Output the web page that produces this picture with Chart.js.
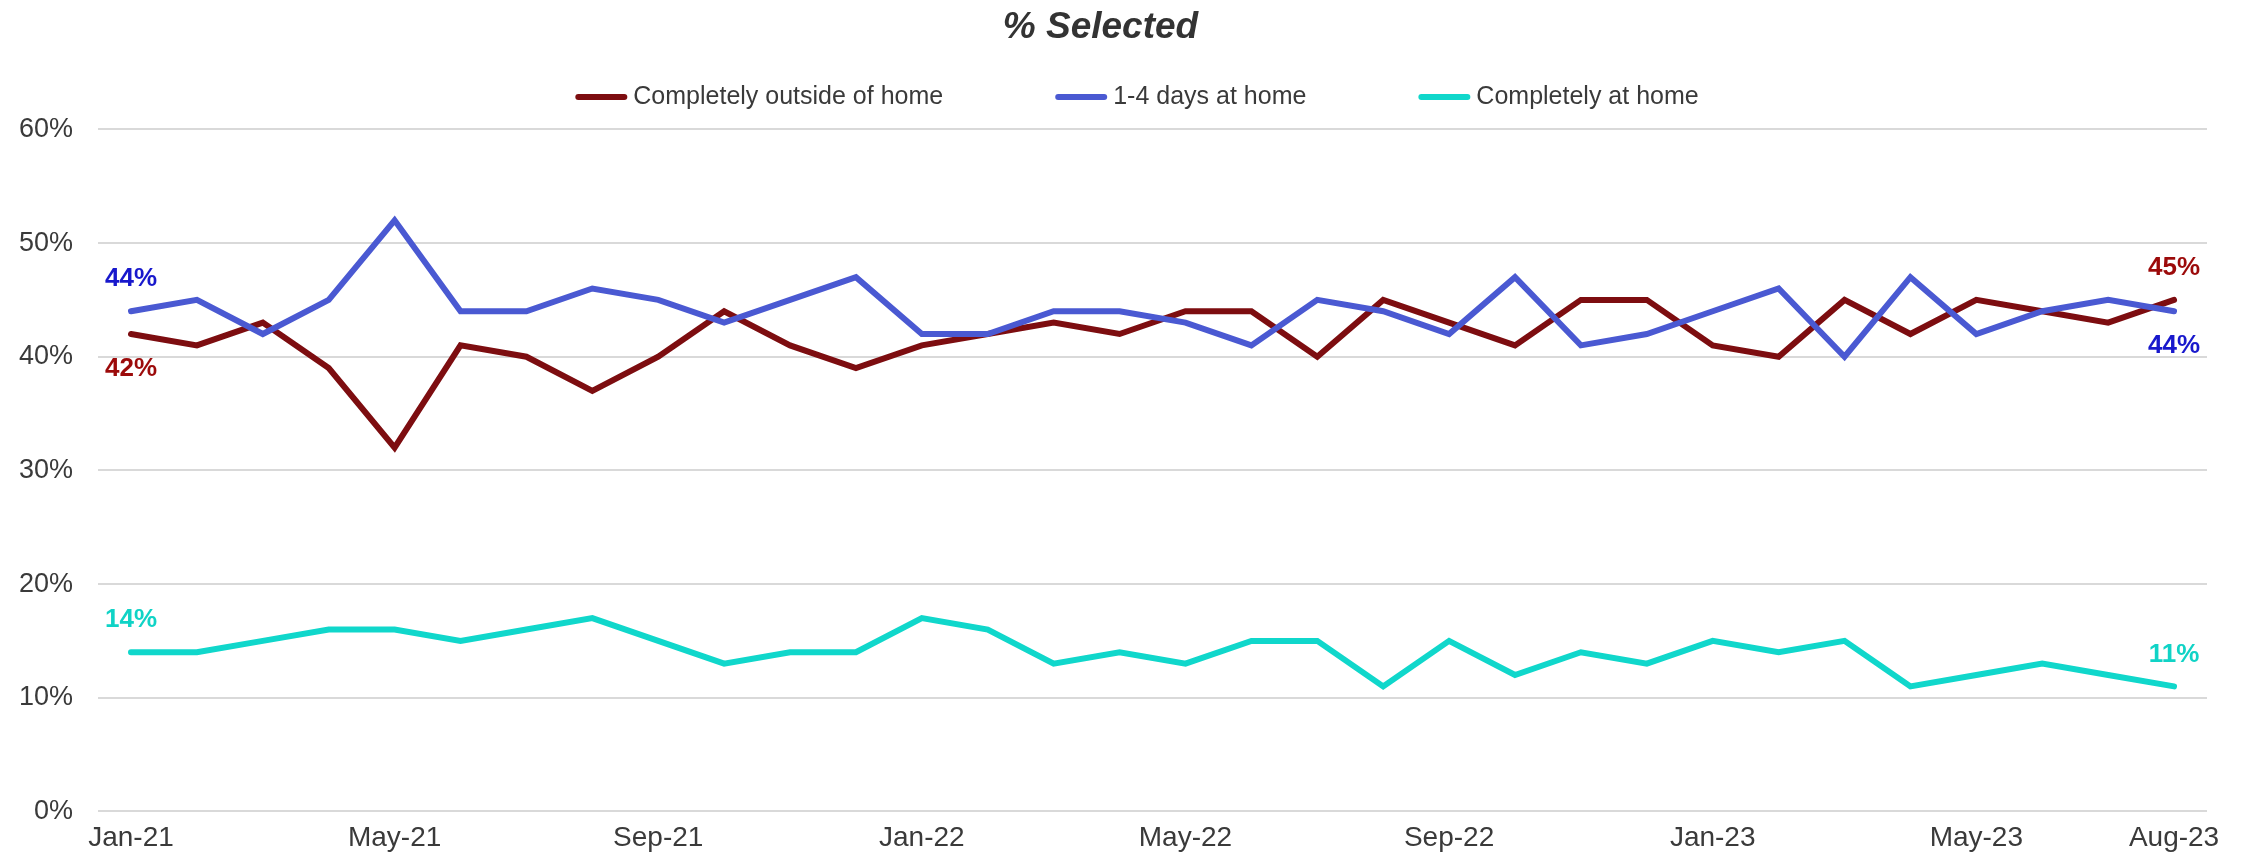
<!DOCTYPE html>
<html lang="en">

<head>
   <meta charset="UTF-8">
   <meta name="viewport" content="width=device-width, initial-scale=1.0">
   <title>% Selected</title>
   <script src="https://cdn.jsdelivr.net/npm/chart.js@4/dist/chart.umd.min.js"></script>
   <style>
      html, body { margin: 0; padding: 0; background: #fff; }
      .chart-container { position: relative; width: 2254px; height: 861px; }
   </style>
</head>

<body>
   <div class="chart-container">
      <canvas id="myChart"></canvas>
   </div>
   <script>
      const months = [
         'Jan-21', 'Feb-21', 'Mar-21', 'Apr-21', 'May-21', 'Jun-21', 'Jul-21', 'Aug-21',
         'Sep-21', 'Oct-21', 'Nov-21', 'Dec-21', 'Jan-22', 'Feb-22', 'Mar-22', 'Apr-22',
         'May-22', 'Jun-22', 'Jul-22', 'Aug-22', 'Sep-22', 'Oct-22', 'Nov-22', 'Dec-22',
         'Jan-23', 'Feb-23', 'Mar-23', 'Apr-23', 'May-23', 'Jun-23', 'Jul-23', 'Aug-23'
      ];

      // percent of respondents per month
      const outsideHome = [42, 41, 43, 39, 32, 41, 40, 37, 40, 44, 41, 39, 41, 42, 43, 42,
         44, 44, 40, 45, 43, 41, 45, 45, 41, 40, 45, 42, 45, 44, 43, 45];
      const partlyHome = [44, 45, 42, 45, 52, 44, 44, 46, 45, 43, 45, 47, 42, 42, 44, 44,
         43, 41, 45, 44, 42, 47, 41, 42, 44, 46, 40, 47, 42, 44, 45, 44];
      const atHome = [14, 14, 15, 16, 16, 15, 16, 17, 15, 13, 14, 14, 17, 16, 13, 14,
         13, 15, 15, 11, 15, 12, 14, 13, 15, 14, 15, 11, 12, 13, 12, 11];

      const yTicks = [0, 10, 20, 30, 40, 50, 60];

      const FONT = '"Liberation Sans", Arial, sans-serif';
      const TEXT = '#3a3a3a';

      // first / last value written next to each line
      const endLabels = {
         id: 'endLabels',
         afterDatasetsDraw(chart) {
            const ctx = chart.ctx;
            ctx.save();
            ctx.font = 'bold 26px ' + FONT;
            ctx.textAlign = 'center';
            ctx.textBaseline = 'middle';
            chart.data.datasets.forEach((ds, di) => {
               const meta = chart.getDatasetMeta(di);
               const last = ds.data.length - 1;
               [[0, ds.firstSide], [last, ds.lastSide]].forEach(([i, side]) => {
                  const pt = meta.data[i];
                  ctx.fillStyle = ds.labelColor;
                  ctx.fillText(ds.data[i] + '%', pt.x, pt.y + (side === 'above' ? -32 : 35));
               });
            });
            ctx.restore();
         }
      };

      // legend with short thick line markers
      const lineLegend = {
         id: 'lineLegend',
         afterDraw(chart) {
            const ctx = chart.ctx;
            const y = 97, lineLen = 52, gap = 6, spacing = 112;
            ctx.save();
            ctx.font = '25px ' + FONT;
            ctx.textBaseline = 'middle';
            const items = chart.data.datasets.map(ds => ({
               text: ds.label, color: ds.borderColor, w: ctx.measureText(ds.label).width
            }));
            const total = items.reduce((s, it) => s + lineLen + gap + it.w, 0) + spacing * (items.length - 1);
            let x = chart.width / 2 + 10 - total / 2;
            items.forEach(it => {
               ctx.strokeStyle = it.color;
               ctx.lineWidth = 6;
               ctx.lineCap = 'round';
               ctx.beginPath();
               ctx.moveTo(x + 3, y);
               ctx.lineTo(x + lineLen - 3, y);
               ctx.stroke();
               ctx.fillStyle = TEXT;
               ctx.fillText(it.text, x + lineLen + gap, y);
               x += lineLen + gap + it.w + spacing;
            });
            ctx.restore();
         }
      };

      const config = {
         type: 'line',
         data: {
            labels: months,
            datasets: [{
               label: 'Completely outside of home',
               data: outsideHome,
               borderColor: '#7d0d10',
               labelColor: '#9c0a0a',
               firstSide: 'below',
               lastSide: 'above',
               order: 3
            }, {
               label: '1-4 days at home',
               data: partlyHome,
               borderColor: '#4a59d2',
               labelColor: '#1818cc',
               firstSide: 'above',
               lastSide: 'below',
               order: 2
            }, {
               label: 'Completely at home',
               data: atHome,
               borderColor: '#10d7cb',
               labelColor: '#10d3c6',
               firstSide: 'above',
               lastSide: 'above',
               order: 1
            }]
         },
         options: {
            responsive: true,
            maintainAspectRatio: false,
            animation: false,
            layout: { padding: { left: -6, right: 47, top: 0, bottom: -4 } },
            elements: {
               line: { borderWidth: 6, tension: 0, borderCapStyle: 'round', fill: false },
               point: { radius: 0, hoverRadius: 0 }
            },
            plugins: {
               legend: { display: false },
               tooltip: { enabled: false },
               title: {
                  display: true,
                  text: '% Selected',
                  color: '#333',
                  font: { family: FONT, size: 37, weight: 'bold', style: 'italic' },
                  padding: { top: 6, bottom: 79 }
               }
            },
            scales: {
               x: {
                  offset: true,
                  grid: { display: false, drawTicks: false },
                  border: { display: false },
                  ticks: {
                     autoSkip: false,
                     maxRotation: 0,
                     padding: 10,
                     color: TEXT,
                     font: { family: FONT, size: 28 },
                     callback: function (value, index) {
                        return (index % 4 === 0 || index === months.length - 1) ? months[index] : '';
                     }
                  }
               },
               y: {
                  min: yTicks[0],
                  max: yTicks[yTicks.length - 1],
                  grid: { color: '#d9d9d9', lineWidth: 2, drawTicks: false },
                  border: { display: false },
                  afterBuildTicks: axis => { axis.ticks = yTicks.map(v => ({ value: v })); },
                  ticks: {
                     padding: 25,
                     color: TEXT,
                     font: { family: FONT, size: 27 },
                     callback: v => v + '%'
                  }
               }
            }
         },
         plugins: [endLabels, lineLegend]
      };

      const ctx = document.getElementById('myChart').getContext('2d');
      const chart = new Chart(ctx, config);
   </script>
</body>

</html>
